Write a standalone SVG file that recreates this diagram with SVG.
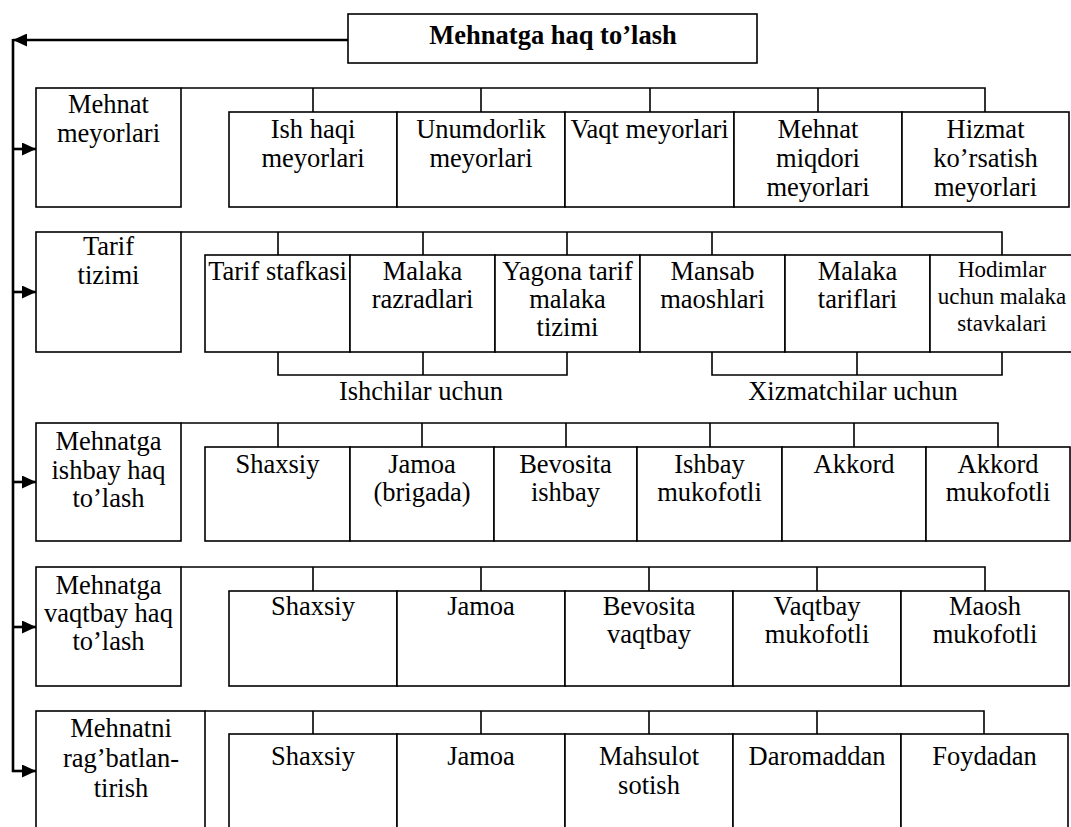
<svg xmlns="http://www.w3.org/2000/svg" width="1071" height="827" viewBox="0 0 1071 827">
<style>
.b{fill:#fff;stroke:#000;stroke-width:1.6}
.c{fill:none;stroke:#000;stroke-width:1.6}
.s{fill:none;stroke:#000;stroke-width:2.6}
text{font-family:"Liberation Serif","Times New Roman",serif;font-size:26.5px;fill:#000;text-anchor:middle}
.t{font-weight:bold;font-size:26.5px}
.sm{font-size:23px}
</style>
<defs>
<marker id="ah" viewBox="0 0 14 13" refX="14" refY="6.5" markerWidth="14" markerHeight="13" markerUnits="userSpaceOnUse" orient="auto">
<path d="M0,0 L14,6.5 L0,13 z" fill="#000"/>
</marker>
</defs>
<rect width="1071" height="827" fill="#fff"/>
<g id="connectors">
<line class="s" x1="348" y1="40" x2="13" y2="40" marker-end="url(#ah)"/>
<line class="s" x1="13" y1="39" x2="13" y2="772"/>
<line class="s" x1="12" y1="149" x2="36" y2="149" marker-end="url(#ah)"/>
<line class="s" x1="12" y1="292" x2="36" y2="292" marker-end="url(#ah)"/>
<line class="s" x1="12" y1="482" x2="36" y2="482" marker-end="url(#ah)"/>
<line class="s" x1="12" y1="627" x2="36" y2="627" marker-end="url(#ah)"/>
<line class="s" x1="12" y1="771" x2="36" y2="771" marker-end="url(#ah)"/>
<path class="c" d="M181,88 H985 V112 M313,88 V112 M481,88 V112 M650,88 V112 M818,88 V112"/>
<path class="c" d="M181,232 H1002 V255 M278,232 V255 M423,232 V255 M567,232 V255 M712,232 V255"/>
<path class="c" d="M278,352 V375 H567 V352 M423,352 V375"/>
<path class="c" d="M712,352 V375 H1002 V352 M857,352 V375"/>
<path class="c" d="M181,423 H998 V447 M278,423 V447 M422,423 V447 M566,423 V447 M710,423 V447 M854,423 V447"/>
<path class="c" d="M181,567 H985 V591 M313,567 V591 M481,567 V591 M649,567 V591 M817,567 V591"/>
<path class="c" d="M205,711 H984 V734 M313,711 V734 M481,711 V734 M649,711 V734 M817,711 V734"/>
</g>
<g id="title">
<rect class="b" x="348" y="14" width="409" height="49"/>
<text class="t" x="553" y="44">Mehnatga haq to’lash</text>
</g>
<g id="r1-head"><rect class="b" x="36" y="88" width="145" height="119"/><text x="108.5" y="113">Mehnat</text><text x="108.5" y="142">meyorlari</text></g>
<g id="r1-c1"><rect class="b" x="229" y="112" width="168" height="95"/><text x="313" y="138">Ish haqi</text><text x="313" y="167">meyorlari</text></g>
<g id="r1-c2"><rect class="b" x="397" y="112" width="168" height="95"/><text x="481" y="138">Unumdorlik</text><text x="481" y="167">meyorlari</text></g>
<g id="r1-c3"><rect class="b" x="565" y="112" width="169" height="95"/><text x="649.5" y="138">Vaqt meyorlari</text></g>
<g id="r1-c4"><rect class="b" x="734" y="112" width="168" height="95"/><text x="818" y="138">Mehnat</text><text x="818" y="167">miqdori</text><text x="818" y="196">meyorlari</text></g>
<g id="r1-c5"><rect class="b" x="902" y="112" width="167" height="95"/><text x="985.5" y="138">Hizmat</text><text x="985.5" y="167">ko’rsatish</text><text x="985.5" y="196">meyorlari</text></g>
<g id="r2-head"><rect class="b" x="36" y="232" width="145" height="120"/><text x="108.5" y="255">Tarif</text><text x="108.5" y="284">tizimi</text></g>
<g id="r2-c1"><rect class="b" x="205" y="255" width="145" height="97"/><text x="277.5" y="280">Tarif stafkasi</text></g>
<g id="r2-c2"><rect class="b" x="350" y="255" width="145" height="97"/><text x="422.5" y="280">Malaka</text><text x="422.5" y="308">razradlari</text></g>
<g id="r2-c3"><rect class="b" x="495" y="255" width="145" height="97"/><text x="567.5" y="280">Yagona tarif</text><text x="567.5" y="308">malaka</text><text x="567.5" y="336">tizimi</text></g>
<g id="r2-c4"><rect class="b" x="640" y="255" width="145" height="97"/><text x="712.5" y="280">Mansab</text><text x="712.5" y="308">maoshlari</text></g>
<g id="r2-c5"><rect class="b" x="785" y="255" width="145" height="97"/><text x="857.5" y="280">Malaka</text><text x="857.5" y="308">tariflari</text></g>
<g id="r2-c6"><rect class="b" x="930" y="255" width="145" height="97"/><text class="sm" x="1002" y="277">Hodimlar</text><text class="sm" x="1002" y="304">uchun malaka</text><text class="sm" x="1002" y="331">stavkalari</text></g>
<g id="r2-l1"><text x="421" y="400">Ishchilar uchun</text></g>
<g id="r2-l2"><text x="853" y="400">Xizmatchilar uchun</text></g>
<g id="r3-head"><rect class="b" x="36" y="423" width="145" height="118"/><text x="108.5" y="450">Mehnatga</text><text x="108.5" y="479">ishbay haq</text><text x="108.5" y="507">to’lash</text></g>
<g id="r3-c1"><rect class="b" x="205" y="447" width="145" height="94"/><text x="277.5" y="473">Shaxsiy</text></g>
<g id="r3-c2"><rect class="b" x="350" y="447" width="144" height="94"/><text x="422" y="473">Jamoa</text><text x="422" y="501">(brigada)</text></g>
<g id="r3-c3"><rect class="b" x="494" y="447" width="143" height="94"/><text x="565.5" y="473">Bevosita</text><text x="565.5" y="501">ishbay</text></g>
<g id="r3-c4"><rect class="b" x="637" y="447" width="145" height="94"/><text x="709.5" y="473">Ishbay</text><text x="709.5" y="501">mukofotli</text></g>
<g id="r3-c5"><rect class="b" x="782" y="447" width="144" height="94"/><text x="854" y="473">Akkord</text></g>
<g id="r3-c6"><rect class="b" x="926" y="447" width="144" height="94"/><text x="998" y="473">Akkord</text><text x="998" y="501">mukofotli</text></g>
<g id="r4-head"><rect class="b" x="36" y="567" width="145" height="119"/><text x="108.5" y="594">Mehnatga</text><text x="108.5" y="622">vaqtbay haq</text><text x="108.5" y="650">to’lash</text></g>
<g id="r4-c1"><rect class="b" x="229" y="591" width="168" height="95"/><text x="313" y="615">Shaxsiy</text></g>
<g id="r4-c2"><rect class="b" x="397" y="591" width="168" height="95"/><text x="481" y="615">Jamoa</text></g>
<g id="r4-c3"><rect class="b" x="565" y="591" width="168" height="95"/><text x="649" y="615">Bevosita</text><text x="649" y="643">vaqtbay</text></g>
<g id="r4-c4"><rect class="b" x="733" y="591" width="168" height="95"/><text x="817" y="615">Vaqtbay</text><text x="817" y="643">mukofotli</text></g>
<g id="r4-c5"><rect class="b" x="901" y="591" width="168" height="95"/><text x="985" y="615">Maosh</text><text x="985" y="643">mukofotli</text></g>
<g id="r5-head"><rect class="b" x="36" y="711" width="169" height="130"/><text x="121" y="737">Mehnatni</text><text x="121" y="767">rag’batlan-</text><text x="121" y="797">tirish</text></g>
<g id="r5-c1"><rect class="b" x="229" y="734" width="168" height="107"/><text x="313" y="765">Shaxsiy</text></g>
<g id="r5-c2"><rect class="b" x="397" y="734" width="168" height="107"/><text x="481" y="765">Jamoa</text></g>
<g id="r5-c3"><rect class="b" x="565" y="734" width="168" height="107"/><text x="649" y="765">Mahsulot</text><text x="649" y="794">sotish</text></g>
<g id="r5-c4"><rect class="b" x="733" y="734" width="168" height="107"/><text x="817" y="765">Daromaddan</text></g>
<g id="r5-c5"><rect class="b" x="901" y="734" width="167" height="107"/><text x="984.5" y="765">Foydadan</text></g>
</svg>
